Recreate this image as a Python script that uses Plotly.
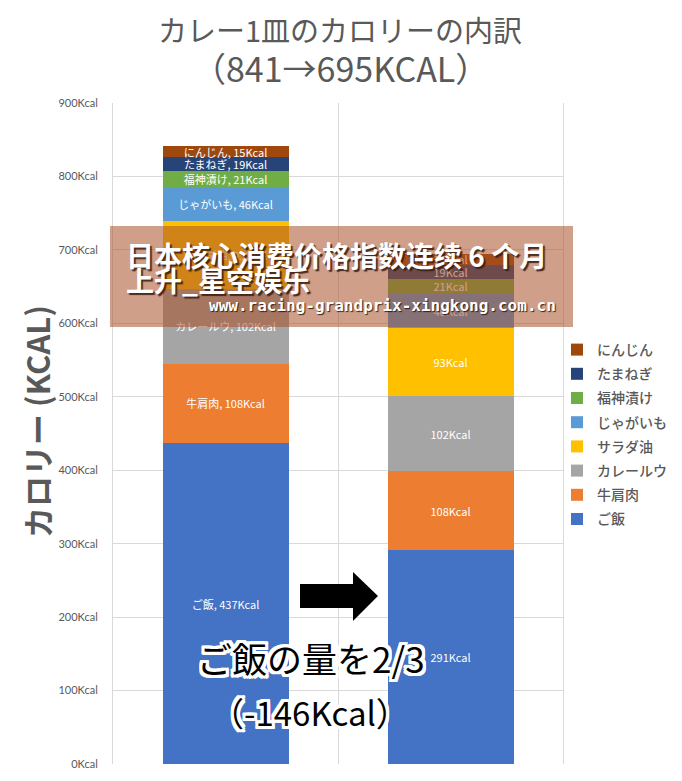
import plotly.graph_objects as go

# ---- data ----
stages = ["変更前", "変更後"]
ingredients = ["ご飯", "牛肩肉", "カレールウ", "サラダ油", "じゃがいも", "福神漬け", "たまねぎ", "にんじん"]
kcal_before = [437, 108, 102, 93, 46, 21, 19, 15]
kcal_after = [291, 108, 102, 93, 46, 21, 19, 15]
colors = ["#4472C4", "#ED7D31", "#A5A5A5", "#FFC000", "#5B9BD5", "#70AD47", "#264478", "#9E480E"]
y_ticks = [0, 100, 200, 300, 400, 500, 600, 700, 800, 900]
y_tick_text = [f"{v}Kcal" for v in y_ticks]

W, H = 682, 781
L, R, T, B = 113, 119, 103, 17
PW, PH = W - L - R, H - T - B


def px(x):
    return (x - L) / PW


def py(y):
    return (H - B - y) / PH


fig = go.Figure()
n = len(ingredients)
for i, (name, vb, va, col) in enumerate(zip(ingredients, kcal_before, kcal_after, colors)):
    fig.add_trace(go.Bar(
        x=stages, y=[vb, va], name=name, legendgroup=name, legendrank=(n - i) * 10,
        marker=dict(color=col, line=dict(width=0)),
        text=[f"{name}, {vb}Kcal", f"{va}Kcal"],
        textposition="inside", insidetextanchor="middle", textangle=0,
        constraintext="none",
        textfont=dict(color="white", size=11, family="Noto Sans CJK JP"),
        hoverinfo="skip",
    ))

GRAY = "#595959"
fig.update_layout(
    width=W, height=H,
    margin=dict(l=L, r=R, t=T, b=B, autoexpand=False),
    barmode="stack", bargap=0.44,
    plot_bgcolor="white", paper_bgcolor="white",
    showlegend=True,
    legend=dict(x=px(557), y=py(334), xanchor="left", yanchor="top",
                traceorder="grouped", tracegroupgap=3,
                font=dict(size=14, color=GRAY, family="Noto Sans CJK JP", weight=500),
                bgcolor="rgba(0,0,0,0)"),
    xaxis=dict(type="category", range=[-0.5, 1.5], showticklabels=False,
               tickson="boundaries", showgrid=True, gridcolor="#d9d9d9",
               gridwidth=1, ticks="", zeroline=False, showline=False),
    yaxis=dict(range=[0, 900], tickmode="array", tickvals=y_ticks, ticktext=y_tick_text,
               showgrid=True, gridcolor="#d9d9d9", zeroline=False,
               showline=True, mirror=True, linecolor="#d9d9d9", linewidth=1,
               ticklabelstandoff=12,
               tickfont=dict(size=11, color=GRAY, family="Lato")),
)


def note(text, x, y, size, color=GRAY, family="Noto Sans CJK JP", xanchor="center", **fontkw):
    fig.add_annotation(text=text, x=px(x), y=py(y), xref="paper", yref="paper",
                       xanchor=xanchor, yanchor="middle", showarrow=False,
                       font=dict(size=size, color=color, family=family, **fontkw))


# title (two lines)
note("カレー1皿のカロリーの内訳", 340, 29, 29)
note("（841→695KCAL）", 340, 68, 34)

# y-axis title
fig.add_annotation(text="カロリー (KCAL)", x=px(36), y=py(422), xref="paper", yref="paper",
                   xanchor="center", yanchor="middle", textangle=-90, showarrow=False,
                   font=dict(size=31, color=GRAY, family="Noto Sans CJK JP", weight="bold"))

# black arrow
pts = [(300, 584), (353, 584), (353, 572), (378, 596), (353, 621), (353, 608), (300, 608)]
path = "M " + " L ".join(f"{px(a):.5f},{py(b):.5f}" for a, b in pts) + " Z"
fig.add_shape(type="path", path=path, xref="paper", yref="paper",
              fillcolor="black", line=dict(width=0), layer="above")

outline = ", ".join(f"{dx}px {dy}px 0 white" for dx in (-3, -2, 0, 2, 3) for dy in (-3, -2, 0, 2, 3)
                    if not (dx == 0 and dy == 0))
note("ご飯の量を2/3", 311, 657, 35, color="black", shadow=outline)
note("（-146Kcal）", 310, 712, 33, color="black", shadow=outline)

# watermark banner overlay
fig.add_shape(type="rect", xref="paper", yref="paper",
              x0=px(110), x1=px(573), y0=py(327), y1=py(226),
              fillcolor="rgba(170,80,40,0.55)", line=dict(width=0), layer="above")
shadow_dark = "2px 2px 1px rgba(60,30,20,0.9)"
note("日本核心消费价格指数连续 6 个月", 124, 255, 28, color="white", family="Noto Sans CJK SC",
     xanchor="left", weight="bold", shadow=shadow_dark)
note("上升_星空娱乐", 124, 280, 28, color="white", family="Noto Sans CJK SC",
     xanchor="left", weight="bold", shadow=shadow_dark)
note("www.racing-grandprix-xingkong.com.cn", 558, 305, 16, color="white", family="DejaVu Sans Mono",
     xanchor="right", weight="bold", shadow="1px 1px 1px rgba(40,20,10,0.9)")

fig.write_html("out.html", config={"displayModeBar": False},
               post_script="document.body.style.margin='0';")
